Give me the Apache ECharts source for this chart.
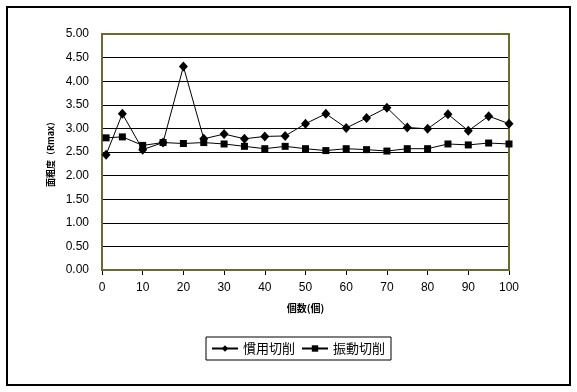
<!DOCTYPE html>
<html><head><meta charset="utf-8">
<script src="https://cdn.jsdelivr.net/npm/echarts@6/dist/echarts.min.js"></script>
<style>html,body{margin:0;padding:0;background:#fff}#c{width:577px;height:392px}</style>
</head><body><div id="c"></div>
<script>
var xValues = [1,5,10,15,20,25,30,35,40,45,50,55,60,65,70,75,80,85,90,95,100];
var conventional = [2.44,3.31,2.55,2.70,4.31,2.78,2.88,2.78,2.83,2.84,3.10,3.31,3.01,3.22,3.44,3.02,2.99,3.30,2.95,3.26,3.10];
var vibration = [2.80,2.82,2.64,2.70,2.68,2.70,2.67,2.62,2.57,2.62,2.57,2.53,2.57,2.55,2.52,2.57,2.57,2.67,2.65,2.69,2.67];
var seriesNames = ['慣用切削','振動切削'];
var xTitle = '個数(個)';
var yTitle = '面粗度（Rmax）';

function pairs(xs, ys){ return xs.map(function(x,i){ return [x, ys[i]]; }); }
var jp = '"Noto Sans CJK JP", sans-serif';
var chart = echarts.init(document.getElementById('c'));
chart.setOption({
  animation: false,
  backgroundColor: '#fff',
  graphic: [
    {type:'rect', shape:{x:7, y:7, width:563, height:378}, style:{fill:'none', stroke:'#000', lineWidth:2}, z:-1},
    {type:'rect', shape:{x:102, y:34, width:407, height:236}, style:{fill:'none', stroke:'#6b6b2f', lineWidth:2}, z:1}
  ],
  grid: {left:102, top:34, width:407, height:236, show:true, borderColor:'#6b6b2f', borderWidth:2, backgroundColor:'#fff'},
  xAxis: {
    type:'value', min:0, max:100, interval:10,
    name: xTitle, nameLocation:'middle', nameGap:33,
    nameTextStyle:{fontFamily:jp, fontSize:10, fontWeight:'bold', color:'#000'},
    axisLine:{show:true, lineStyle:{color:'#000', width:1}},
    axisTick:{show:true, length:5, lineStyle:{color:'#000'}},
    axisLabel:{fontFamily:'"Liberation Sans", sans-serif', fontSize:12, color:'#000', margin:12},
    splitLine:{show:false}
  },
  yAxis: {
    type:'value', min:0, max:5, interval:0.5,
    name: yTitle, nameLocation:'middle', nameGap:32, nameRotate:90,
    nameTextStyle:{fontFamily:jp, fontSize:9, fontWeight:'bold', color:'#000'},
    axisLine:{show:true, lineStyle:{color:'#000', width:1}},
    axisTick:{show:false},
    axisLabel:{fontFamily:'"Liberation Sans", sans-serif', fontSize:12, color:'#000', margin:13, formatter:function(v){return v.toFixed(2);}},
    splitLine:{show:true, lineStyle:{color:'#000', width:1}}
  },
  legend: {
    left:206, top:337, orient:'horizontal',
    backgroundColor:'#fff', borderColor:'#000', borderWidth:1, borderRadius:0,
    padding:[5,6,5,5], itemGap:6, itemWidth:26, itemHeight:8,
    textStyle:{fontFamily:jp, fontSize:13, color:'#000'},
    data: seriesNames
  },
  series: [
    {name:seriesNames[0], type:'line', data:pairs(xValues, conventional), symbol:'diamond', symbolSize:[9,10],
     lineStyle:{color:'#000', width:1}, itemStyle:{color:'#000'}},
    {name:seriesNames[1], type:'line', data:pairs(xValues, vibration), symbol:'rect', symbolSize:7,
     lineStyle:{color:'#000', width:1}, itemStyle:{color:'#000'}}
  ]
});
</script></body></html>
